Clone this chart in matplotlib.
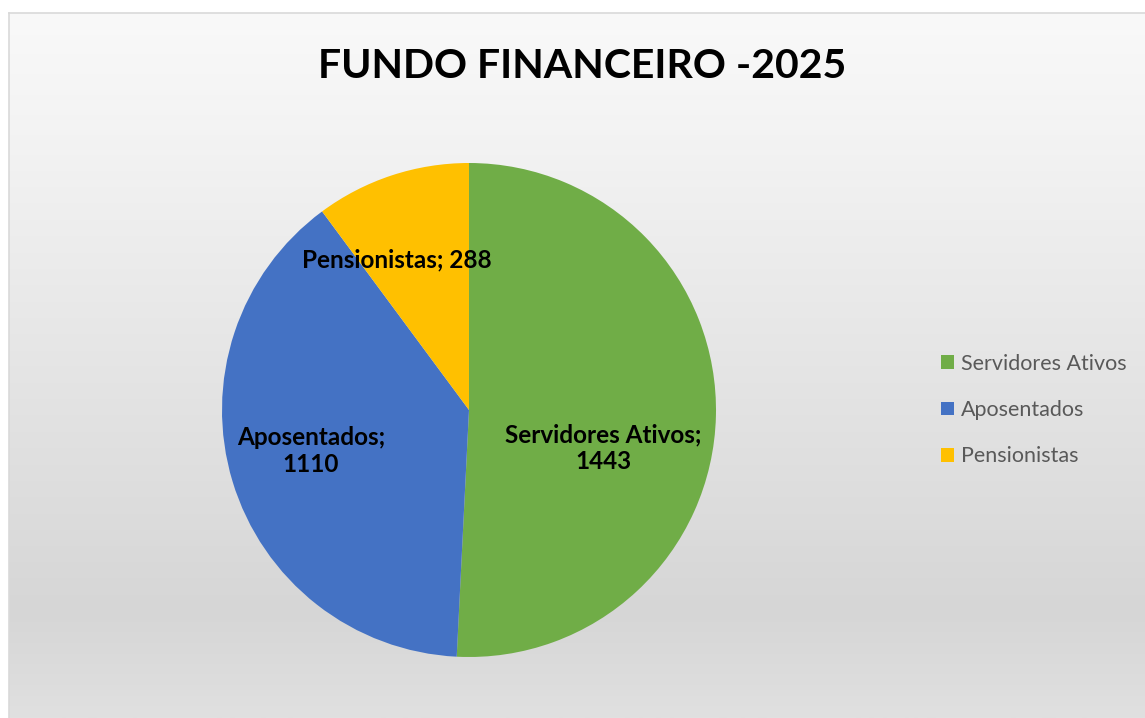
import matplotlib
matplotlib.use("Agg")
import matplotlib.pyplot as plt
import numpy as np
from matplotlib.colors import LinearSegmentedColormap
from matplotlib.patches import Patch

categories = ["Servidores Ativos", "Aposentados", "Pensionistas"]
values = [1443, 1110, 288]
colors = ["#70AD47", "#4472C4", "#FFC000"]
title = "FUNDO FINANCEIRO -2025"

W, H = 1145, 718
fig = plt.figure(figsize=(W / 100, H / 100), dpi=100)
fig.patch.set_facecolor("white")

# background gradient panel
bx0, by0 = 9, 13
bg = fig.add_axes([bx0 / W, 0, (W - bx0) / W, (H - by0) / H])
cmap = LinearSegmentedColormap.from_list(
    "bg", [(0.0, "#f9f9f9"), (0.2, "#f2f2f2"), (0.85, "#d6d6d6"), (1.0, "#e0e0e0")])
grad = np.linspace(0, 1, 256).reshape(-1, 1)
bg.imshow(grad, aspect="auto", cmap=cmap, extent=[0, 1, 0, 1], origin="upper")
bg.set_xlim(0, 1); bg.set_ylim(0, 1)
bg.set_xticks([]); bg.set_yticks([])
for s in ["right", "bottom"]:
    bg.spines[s].set_visible(False)
for s in ["left", "top"]:
    bg.spines[s].set_color("#d9d9d9")
    bg.spines[s].set_linewidth(1.2)

# pie
cx, cy, r = 469, 410, 247
ax = fig.add_axes([(cx - r) / W, (H - cy - r) / H, 2 * r / W, 2 * r / H])
ax.set_facecolor("none")
ax.pie(values, colors=colors, startangle=90, counterclock=False, radius=1,
       wedgeprops=dict(linewidth=0))
ax.set_xlim(-1, 1); ax.set_ylim(-1, 1)
ax.set_aspect("equal")
ax.axis("off")

font = "Lato"
def px(x, y):
    return ((x - cx) / r, (cy - y) / r)

lab_pos = [(603, 448), (311, 451), (397, 260)]
lab_txt = [f"{categories[0]};\n{values[0]}", f"{categories[1]};\n{values[1]}",
           f"{categories[2]}; {values[2]}"]
for (x, y), t in zip(lab_pos, lab_txt):
    dx, dy = px(x, y)
    ax.text(dx, dy, t, ha="center", va="center", fontsize=17.5, fontweight="bold",
            family=font, color="black", linespacing=1.2)

fig.text(582 / W, 1 - 66 / H, title, ha="center", va="center", fontsize=29.5,
         fontweight="bold", family=font, color="black")

handles = [Patch(facecolor=c, edgecolor="none") for c in colors]
leg = fig.legend(handles, categories, loc="center left",
                 bbox_to_anchor=(941 / W, 1 - 410 / H), frameon=False,
                 borderpad=0, borderaxespad=0,
                 prop=dict(family=font, size=15.5), labelcolor="#595959",
                 handlelength=0.6, handleheight=0.6, handletextpad=0.33,
                 labelspacing=1.23)

fig.savefig("out.png", dpi=100)
